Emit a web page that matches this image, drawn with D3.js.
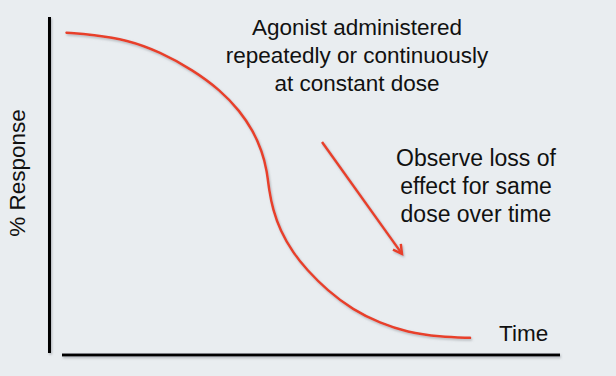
<!DOCTYPE html>
<html>
<head>
<meta charset="utf-8">
<script src="https://cdn.jsdelivr.net/npm/d3@7"></script>
<style>
  html, body { margin: 0; padding: 0; background: #e9edf0; }
  svg { display: block; font-family: "Liberation Sans", Arial, sans-serif; }
</style>
</head>
<body>
<div id="chart"></div>
<script>
// Curve of response vs time (time in arbitrary units, response in %)
const timeVals = [0.09, 0.62, 1.30, 1.96, 2.62, 3.16, 3.56, 3.82, 4.0, 4.1, 4.14, 4.22, 4.36, 4.62, 4.9, 5.3, 5.82, 6.36, 6.9, 7.56, 8.16];
const responseVals = [95.6, 95.0, 93.5, 89.9, 84.5, 78.6, 72.3, 66.4, 60.4, 54.5, 48.8, 42.9, 36.9, 30.1, 25.0, 19.0, 13.1, 9.2, 6.5, 5.1, 4.8];

// Arrow: from/to in data units
const arrowFrom = [5.2, 63.1];
const arrowTo = [6.8, 29.8];

const topNote = ["Agonist administered", "repeatedly or continuously", "at constant dose"];
const sideNote = ["Observe loss of", "effect for same", "dose over time"];
const xLabel = "Time";
const yLabel = "% Response";

const width = 616, height = 376;
const red = "#e8402a";

const svg = d3.select("#chart").append("svg")
    .attr("width", width)
    .attr("height", height);

const defs = svg.append("defs");
defs.append("filter")
    .attr("id", "shadow")
    .attr("filterUnits", "userSpaceOnUse")
    .attr("x", 0).attr("y", 0)
    .attr("width", width).attr("height", height)
  .append("feDropShadow")
    .attr("dx", 1).attr("dy", 1.5)
    .attr("stdDeviation", 0.8)
    .attr("flood-color", "#8a8f94")
    .attr("flood-opacity", 0.6);

const x = d3.scaleLinear().domain([0, 10]).range([62, 562]);
const y = d3.scaleLinear().domain([0, 100]).range([354, 18]);

// axes (plain lines, no ticks)
svg.append("line")
    .attr("x1", x(0) - 12.5).attr("x2", x(0) - 12.5)
    .attr("y1", y(100) - 1).attr("y2", y(0) - 1)
    .attr("stroke", "#000").attr("stroke-width", 3)
    .attr("filter", "url(#shadow)");

svg.append("line")
    .attr("x1", x(0)).attr("x2", x(9.96))
    .attr("y1", y(0) + 1).attr("y2", y(0) + 1)
    .attr("stroke", "#000").attr("stroke-width", 3)
    .attr("filter", "url(#shadow)");

// response curve
const points = timeVals.map((t, i) => [t, responseVals[i]]);
const line = d3.line()
    .x(d => x(d[0]))
    .y(d => y(d[1]))
    .curve(d3.curveBasis);

svg.append("path")
    .datum(points)
    .attr("d", line)
    .attr("fill", "none")
    .attr("stroke", red)
    .attr("stroke-width", 2.5)
    .attr("stroke-linecap", "round")
    .attr("filter", "url(#shadow)");

// arrow with open V head
const ax1 = x(arrowFrom[0]), ay1 = y(arrowFrom[1]);
const ax2 = x(arrowTo[0]), ay2 = y(arrowTo[1]);
const ang = Math.atan2(ay2 - ay1, ax2 - ax1);
const headLen = 10, headAng = 0.5;
const arrow = svg.append("g")
    .attr("filter", "url(#shadow)")
    .attr("stroke", red)
    .attr("stroke-width", 2.5)
    .attr("fill", "none");
arrow.append("line")
    .attr("x1", ax1).attr("y1", ay1)
    .attr("x2", ax2).attr("y2", ay2);
arrow.append("path")
    .attr("stroke-linejoin", "miter")
    .attr("d", `M${ax2 - headLen * Math.cos(ang - headAng)},${ay2 - headLen * Math.sin(ang - headAng)}`
        + `L${ax2},${ay2}`
        + `L${ax2 - headLen * Math.cos(ang + headAng)},${ay2 - headLen * Math.sin(ang + headAng)}`);

// text
const txt = svg.append("g").attr("fill", "#111").attr("font-size", 22.5);

txt.append("text")
    .attr("text-anchor", "middle")
    .selectAll("tspan").data(topNote).join("tspan")
    .attr("x", 357)
    .attr("y", (d, i) => 35 + i * 28)
    .text(d => d);

txt.append("text")
    .attr("text-anchor", "middle")
    .attr("font-size", 23)
    .selectAll("tspan").data(sideNote).join("tspan")
    .attr("x", 476)
    .attr("y", (d, i) => 166 + i * 28)
    .text(d => d);

txt.append("text")
    .attr("x", 499).attr("y", 341)
    .text(xLabel);

txt.append("text")
    .attr("transform", "translate(25,173) rotate(-90)")
    .attr("text-anchor", "middle")
    .text(yLabel);
</script>
</body>
</html>
